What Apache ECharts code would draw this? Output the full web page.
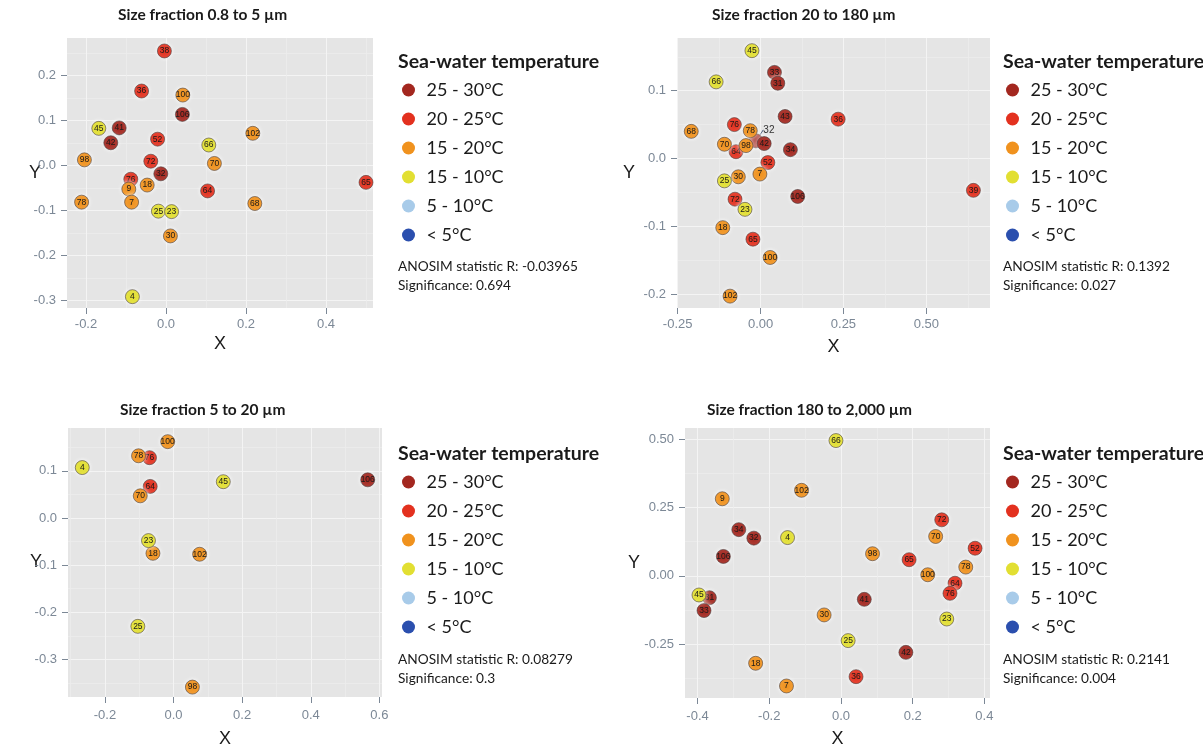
<!DOCTYPE html>
<html><head><meta charset="utf-8">
<script src="https://cdn.jsdelivr.net/npm/echarts@6/dist/echarts.min.js"></script>
<style>html,body{margin:0;padding:0;background:#fff}#c{width:1203px;height:744px}</style>
</head><body><div id="c"></div>
<script>
// ---------- categories ----------
const categories = ['25 - 30°C', '20 - 25°C', '15 - 20°C', '15 - 10°C', '5 - 10°C', '< 5°C'];
const categoryColors = ['#a3271f', '#e3311f', '#f0921e', '#e2df32', '#a8cbe9', '#2b4fae'];

// ---------- panel 1: Size fraction 0.8 to 5 µm ----------
const p1Names = ['38','36','100','106','45','41','42','52','102','66','98','72','70','32','76','9','18','64','78','7','68','25','23','30','4','65'];
const p1X = [-0.004,-0.061,0.042,0.041,-0.168,-0.117,-0.138,-0.021,0.217,0.107,-0.204,-0.038,0.121,-0.013,-0.088,-0.093,-0.047,0.104,-0.211,-0.086,0.222,-0.019,0.014,0.011,-0.084,0.500];
const p1Y = [0.255,0.166,0.157,0.114,0.083,0.084,0.051,0.059,0.072,0.046,0.013,0.010,0.005,-0.018,-0.030,-0.052,-0.043,-0.056,-0.081,-0.081,-0.084,-0.101,-0.102,-0.156,-0.291,-0.037];
const p1Class = [1,1,2,0,3,0,0,1,2,3,2,1,2,0,1,2,2,1,2,2,2,3,3,2,3,1];
const p1XTicks = ['-0.2','0.0','0.2','0.4'];
const p1YTicks = ['-0.3','-0.2','-0.1','0.0','0.1','0.2'];
const p1Stat = ['ANOSIM statistic R: -0.03965', 'Significance: 0.694'];

// ---------- panel 2: Size fraction 20 to 180 µm ----------
const p2Names = ['45','33','31','66','43','76','78','68','70','32','98','42','64','34','52','7','25','30','106','72','23','18','65','100','102','36','39'];
const p2X = [-0.026,0.042,0.052,-0.134,0.074,-0.079,-0.031,-0.209,-0.109,-0.014,-0.044,0.011,-0.074,0.090,0.022,-0.002,-0.109,-0.067,0.112,-0.077,-0.047,-0.114,-0.023,0.029,-0.092,0.234,0.642];
const p2Y = [0.159,0.127,0.111,0.113,0.062,0.050,0.041,0.040,0.021,0.026,0.019,0.022,0.010,0.013,-0.006,-0.023,-0.033,-0.027,-0.056,-0.060,-0.075,-0.102,-0.119,-0.146,-0.203,0.058,-0.047];
const p2Class = [3,0,0,3,0,1,2,2,2,0,2,0,1,0,1,2,3,2,0,1,3,2,1,2,2,1,1];
const p2XTicks = ['-0.25','0.00','0.25','0.50'];
const p2YTicks = ['-0.2','-0.1','0.0','0.1'];
const p2Stat = ['ANOSIM statistic R: 0.1392', 'Significance: 0.027'];

// ---------- panel 3: Size fraction 5 to 20 µm ----------
const p3Names = ['4','100','78','76','45','64','70','23','18','102','25','98','106'];
const p3X = [-0.266,-0.017,-0.102,-0.070,0.145,-0.068,-0.097,-0.073,-0.060,0.076,-0.104,0.055,0.566];
const p3Y = [0.107,0.162,0.132,0.128,0.077,0.067,0.047,-0.048,-0.075,-0.077,-0.230,-0.359,0.081];
const p3Class = [3,2,2,1,3,1,2,3,2,2,3,2,0];
const p3XTicks = ['-0.2','0.0','0.2','0.4','0.6'];
const p3YTicks = ['-0.3','-0.2','-0.1','0.0','0.1'];
const p3Stat = ['ANOSIM statistic R: 0.08279', 'Significance: 0.3'];

// ---------- panel 4: Size fraction 180 to 2,000 µm ----------
const p4Names = ['66','9','102','34','32','4','106','72','70','52','98','65','78','100','64','76','31','45','33','41','30','23','25','42','18','36','7'];
const p4X = [-0.014,-0.331,-0.110,-0.285,-0.243,-0.149,-0.328,0.281,0.264,0.374,0.088,0.190,0.348,0.242,0.318,0.304,-0.367,-0.396,-0.382,0.065,-0.047,0.295,0.020,0.181,-0.238,0.042,-0.152];
const p4Y = [0.495,0.282,0.313,0.169,0.138,0.140,0.071,0.205,0.144,0.101,0.081,0.059,0.032,0.004,-0.027,-0.064,-0.080,-0.070,-0.127,-0.086,-0.143,-0.158,-0.237,-0.280,-0.320,-0.369,-0.403];
const p4Class = [3,2,2,0,0,3,0,1,2,1,2,1,2,2,1,1,0,3,0,0,2,3,3,0,2,1,2];
const p4XTicks = ['-0.4','-0.2','0.0','0.2','0.4'];
const p4YTicks = ['-0.25','0.00','0.25','0.50'];
const p4Stat = ['ANOSIM statistic R: 0.2141', 'Significance: 0.004'];

// ---------- layout (not data) ----------
const panels = [
  {title:'Size fraction 0.8 to 5 µm', names:p1Names, xs:p1X, ys:p1Y, cls:p1Class, xTicks:p1XTicks, yTicks:p1YTicks, stat:p1Stat,
   grid:{left:67, top:38, width:306, height:270}, xr:[-0.2475,0.5175], yr:[-0.3162,0.2838],
   xGap:27, yGap:26, xMargin:10,
   titlePos:[118,7], legendPos:[402,81], legTitlePos:[398,52], statPos:[398,257], repel:{}},
  {title:'Size fraction 20 to 180 µm', names:p2Names, xs:p2X, ys:p2Y, cls:p2Class, xTicks:p2XTicks, yTicks:p2YTicks, stat:p2Stat,
   grid:{left:677, top:38, width:313, height:270}, xr:[-0.252,0.692], yr:[-0.2205,0.1777],
   xGap:30, yGap:42, xMargin:10,
   titlePos:[712,7], legendPos:[1006,81], legTitlePos:[1003,52], statPos:[1003,257], repel:{'32':[13,-11]}},
  {title:'Size fraction 5 to 20 µm', names:p3Names, xs:p3X, ys:p3Y, cls:p3Class, xTicks:p3XTicks, yTicks:p3YTicks, stat:p3Stat,
   grid:{left:68, top:428, width:314, height:269}, xr:[-0.3076,0.6076], yr:[-0.380,0.191],
   xGap:33, yGap:26, xMargin:12,
   titlePos:[120,402], legendPos:[402,473], legTitlePos:[398,444], statPos:[398,650], repel:{}},
  {title:'Size fraction 180 to 2,000 µm', names:p4Names, xs:p4X, ys:p4Y, cls:p4Class, xTicks:p4XTicks, yTicks:p4YTicks, stat:p4Stat,
   grid:{left:685, top:428, width:305, height:270}, xr:[-0.435,0.4156], yr:[-0.447,0.541],
   xGap:32, yGap:45, xMargin:12,
   titlePos:[707,402], legendPos:[1006,473], legTitlePos:[1003,444], statPos:[1003,650], repel:{}}
];

const TICK_COLOR = '#7c8896';
const TEXT_COLOR = '#1a1a1a';

function minorsOf(ticks, lo, hi) {
  const v = ticks.map(Number), step = v[1] - v[0], out = [];
  for (let k = -1; k < v.length; k++) {
    const m = +(v[0] + (k + 0.5) * step).toFixed(6);
    if (m >= lo && m <= hi) out.push(m);
  }
  return out;
}
function labelFor(ticks) {
  const vals = ticks.map(Number);
  return function (v) {
    let best = 0;
    vals.forEach((t, i) => { if (Math.abs(t - v) < Math.abs(vals[best] - v)) best = i; });
    return Math.abs(vals[best] - v) < 1e-6 ? ticks[best] : '';
  };
}

const option = { animation:false, title:[], legend:[], grid:[], xAxis:[], yAxis:[], series:[] };

panels.forEach((p, i) => {
  option.grid.push({ left:p.grid.left, top:p.grid.top, width:p.grid.width, height:p.grid.height,
    show:true, backgroundColor:'#e5e5e5', borderWidth:0, containLabel:false, outerBoundsMode:'none' });

  const xMaj = p.xTicks.map(Number), yMaj = p.yTicks.map(Number);
  const common = { type:'value', gridIndex:i, axisLine:{ show:false, onZero:false } };
  // main axes
  option.xAxis.push(Object.assign({}, common, {
    min:p.xr[0], max:p.xr[1], position:'bottom',
    name:'X', nameLocation:'middle', nameGap:p.xGap, nameMoveOverlap:false,
    nameTextStyle:{ color:TEXT_COLOR, fontSize:18, fontFamily:'Liberation Sans' },
    axisTick:{ show:true, length:6, customValues:xMaj, lineStyle:{ color:TICK_COLOR, width:1 } },
    axisLabel:{ customValues:xMaj, formatter:labelFor(p.xTicks), color:TICK_COLOR, fontSize:13, margin:p.xMargin, fontFamily:'Liberation Sans' },
    splitLine:{ show:true, lineStyle:{ color:'#f4f4f4', width:1 } }
  }));
  option.yAxis.push(Object.assign({}, common, {
    min:p.yr[0], max:p.yr[1], position:'left',
    name:'Y', nameLocation:'middle', nameGap:p.yGap, nameRotate:0, nameMoveOverlap:false,
    nameTextStyle:{ color:TEXT_COLOR, fontSize:18, fontFamily:'Liberation Sans' },
    axisTick:{ show:true, length:6, customValues:yMaj, lineStyle:{ color:TICK_COLOR, width:1 } },
    axisLabel:{ customValues:yMaj, formatter:labelFor(p.yTicks), color:TICK_COLOR, fontSize:13, margin:11, fontFamily:'Liberation Sans' },
    splitLine:{ show:true, lineStyle:{ color:'#f4f4f4', width:1 } }
  }));
  // minor grid axes
  option.xAxis.push(Object.assign({}, common, {
    min:p.xr[0], max:p.xr[1], position:'bottom',
    axisTick:{ show:false, customValues:minorsOf(p.xTicks, p.xr[0], p.xr[1]) },
    axisLabel:{ show:false },
    splitLine:{ show:true, lineStyle:{ color:'#ececec', width:0.8 } }
  }));
  option.yAxis.push(Object.assign({}, common, {
    min:p.yr[0], max:p.yr[1], position:'left',
    axisTick:{ show:false, customValues:minorsOf(p.yTicks, p.yr[0], p.yr[1]) },
    axisLabel:{ show:false },
    splitLine:{ show:true, lineStyle:{ color:'#ececec', width:0.8 } }
  }));

  // titles
  option.title.push({ text:p.title, left:p.titlePos[0], top:p.titlePos[1], padding:0,
    textStyle:{ fontFamily:'Lato', fontWeight:'bold', fontSize:15.5, lineHeight:16, color:TEXT_COLOR } });
  option.title.push({ text:'Sea-water temperature', left:p.legTitlePos[0], top:p.legTitlePos[1], padding:0,
    textStyle:{ fontFamily:'Lato', fontWeight:'bold', fontSize:19.5, lineHeight:20, color:TEXT_COLOR } });
  option.title.push({ text:p.stat.join('\n'), left:p.statPos[0], top:p.statPos[1], padding:0,
    textStyle:{ fontFamily:'Lato', fontWeight:'normal', fontSize:13.7, lineHeight:19, color:TEXT_COLOR } });

  // legend
  option.legend.push({ data:categories, orient:'vertical', left:p.legendPos[0], top:p.legendPos[1], padding:0,
    itemWidth:26, itemHeight:13, itemGap:11, icon:'circle', selectedMode:false,
    itemStyle:{ borderWidth:0, shadowBlur:0 },
    textStyle:{ fontFamily:'Lato', fontSize:18, lineHeight:18, color:TEXT_COLOR } });

  // series: one per temperature class
  categories.forEach((cat, c) => {
    const data = [];
    let hasRepel = false;
    p.names.forEach((nm, k) => {
      if (p.cls[k] !== c) return;
      const item = { name:nm, value:[p.xs[k], p.ys[k]] };
      if (p.repel[nm]) {
        hasRepel = true;
        item.label = { fontSize:10, color:'#333' };
      }
      data.push(item);
    });
    const s = {
      type:'scatter', name:cat, xAxisIndex:2*i, yAxisIndex:2*i, data:data,
      symbol:'circle', symbolSize:14, z:3+c,
      itemStyle:{ color:categoryColors[c], opacity:1, borderColor:'rgba(70,60,60,0.75)', borderWidth:0.8,
        shadowBlur:5, shadowColor:'rgba(255,255,255,0.95)' },
      label:{ show:true, position:'inside', formatter:'{b}', fontSize:8.5, color:'#1a1a1a', fontFamily:'Liberation Sans' },
      labelLayout:function (prm) {
        const nm = data[prm.dataIndex] && data[prm.dataIndex].name;
        const off = p.repel[nm];
        return off ? { dx:off[0], dy:off[1] } : {};
      },
      emphasis:{ disabled:true }
    };
    if (hasRepel) s.labelLine = { show:true, lineStyle:{ color:'#3d4e70', width:1 } };
    option.series.push(s);
  });
});

const chart = echarts.init(document.getElementById('c'), null, { renderer:'canvas', width:1203, height:744 });
chart.setOption(option);
</script>
</body></html>
